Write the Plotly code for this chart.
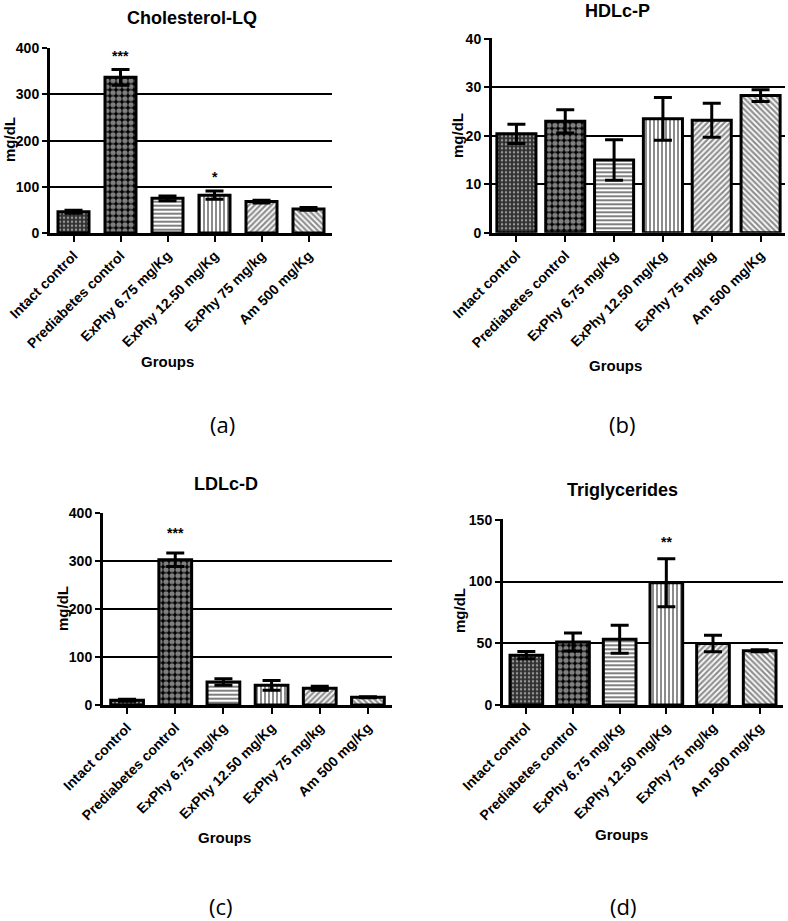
import plotly.graph_objects as go

groups = ["Intact control", "Prediabetes control", "ExPhy 6.75 mg/Kg",
          "ExPhy 12.50 mg/Kg", "ExPhy 75 mg/kg", "Am 500 mg/Kg"]

chol_mean = [46, 337, 75, 82, 68, 52]
chol_sem = [3, 17, 5, 9, 3, 3]
chol_sig = ["", "***", "", "*", "", ""]

hdl_mean = [20.4, 23.0, 15.0, 23.5, 23.2, 28.3]
hdl_sem = [2.0, 2.4, 4.2, 4.4, 3.5, 1.2]
hdl_sig = ["", "", "", "", "", ""]

ldl_mean = [10, 303, 48, 41, 35, 16]
ldl_sem = [2, 14, 7, 10, 4, 1]
ldl_sig = ["", "***", "", "", "", ""]

tg_mean = [40.4, 51.1, 53.3, 99.1, 49.8, 43.9]
tg_sem = [3.0, 7.3, 11.3, 19.4, 6.7, 0.8]
tg_sig = ["", "", "", "**", "", ""]

titles = ["Cholesterol-LQ", "HDLc-P", "LDLc-D", "Triglycerides"]
panel_labels = ["(a)", "(b)", "(c)", "(d)"]

W, H = 788, 921

def fx(px):
    return px / W

def fy(py):
    return 1 - py / H

# panel geometry in pixels: x0, x1, ytop, ybottom
panels = [
    dict(x0=50, x1=332, yt=47.7, yb=233, ymax=400, dtick=100, bw=0.66,
         mean=chol_mean, sem=chol_sem, sig=chol_sig, sigshift=14,
         title_xy=(192, 18), ylab_xy=(9, 140), grp_xy=(167, 362), lab_xy=(222, 424)),
    dict(x0=492, x1=785, yt=38.3, yb=232.7, ymax=40, dtick=10, bw=0.8,
         mean=hdl_mean, sem=hdl_sem, sig=hdl_sig, sigshift=14,
         title_xy=(617, 11), ylab_xy=(457, 136), grp_xy=(615, 366), lab_xy=(622, 424)),
    dict(x0=103, x1=392, yt=512.7, yb=705, ymax=400, dtick=100, bw=0.68,
         mean=ldl_mean, sem=ldl_sem, sig=ldl_sig, sigshift=20,
         title_xy=(226, 484), ylab_xy=(62, 609), grp_xy=(224, 837), lab_xy=(221, 906)),
    dict(x0=503, x1=783, yt=519.3, yb=705, ymax=150, dtick=50, bw=0.7,
         mean=tg_mean, sem=tg_sem, sig=tg_sig, sigshift=17,
         title_xy=(622, 490), ylab_xy=(459, 611), grp_xy=(621, 834), lab_xy=(623, 906)),
]

pat_shape = [".", ".", "-", "|", "/", "\\"]
pat_fg = ["white", "white", "black", "black", "#222222", "#222222"]
pat_bg = ["#303030", "black", "white", "white", "white", "white"]
pat_size = [4, 6, 4, 4, 4, 4]
pat_sol = [0.3, 0.6, 0.5, 0.45, 0.55, 0.55]

fig = go.Figure()
annotations = []
bold = dict(family="Liberation Sans", color="black", weight="bold")

for i, p in enumerate(panels):
    n = "" if i == 0 else str(i + 1)
    xa, ya = "x" + n, "y" + n
    fig.add_trace(go.Bar(
        x=groups, y=p["mean"], xaxis=xa, yaxis=ya, width=p["bw"],
        marker=dict(color="white",
                    line=dict(color="black", width=3),
                    pattern=dict(shape=pat_shape, fgcolor=pat_fg, bgcolor=pat_bg,
                                 size=pat_size, solidity=pat_sol)),
        error_y=dict(type="data", array=p["sem"], visible=True,
                     color="black", thickness=3, width=9),
        showlegend=False, hoverinfo="skip"))
    fig.update_layout(**{
        "xaxis" + n: dict(domain=[fx(p["x0"]), fx(p["x1"])], anchor=ya,
                          range=[-0.5, 5.5], showline=True, linewidth=3,
                          linecolor="black", ticks="outside", ticklen=6,
                          tickwidth=2, tickcolor="black", tickangle=-45,
                          tickfont=dict(size=14, **bold), showgrid=False,
                          zeroline=False, fixedrange=True, automargin=False),
        "yaxis" + n: dict(domain=[fy(p["yb"]), fy(p["yt"])], anchor=xa,
                          range=[0, p["ymax"] * 1.003], dtick=p["dtick"],
                          tick0=0, showline=True, linewidth=3,
                          linecolor="black", ticks="outside", ticklen=5,
                          tickwidth=2, tickcolor="black",
                          tickfont=dict(size=14, **bold), showgrid=True,
                          gridcolor="black", gridwidth=1.5, zeroline=False,
                          fixedrange=True, automargin=False),
    })
    for g, m, s, t in zip(groups, p["mean"], p["sem"], p["sig"]):
        if t:
            annotations.append(dict(x=g, y=m + s, xref=xa, yref=ya, text="<b>" + t + "</b>",
                                    showarrow=False, yshift=p["sigshift"], yanchor="middle",
                                    font=dict(family="Liberation Sans", size=14, color="black")))
    tx, ty = p["title_xy"]
    annotations.append(dict(x=fx(tx), y=fy(ty), xref="paper", yref="paper",
                            text="<b>" + titles[i] + "</b>", showarrow=False,
                            xanchor="center", yanchor="middle",
                            font=dict(family="Liberation Sans", size=18, color="black")))
    lx, ly = p["ylab_xy"]
    annotations.append(dict(x=fx(lx), y=fy(ly), xref="paper", yref="paper",
                            text="<b>mg/dL</b>", showarrow=False, textangle=-90,
                            xanchor="center", yanchor="middle",
                            font=dict(family="Liberation Sans", size=15, color="black")))
    gx, gy = p["grp_xy"]
    annotations.append(dict(x=fx(gx), y=fy(gy), xref="paper", yref="paper",
                            text="<b>Groups</b>", showarrow=False,
                            xanchor="center", yanchor="middle",
                            font=dict(family="Liberation Sans", size=15, color="black")))
    bx, by = p["lab_xy"]
    annotations.append(dict(x=fx(bx), y=fy(by), xref="paper", yref="paper",
                            text=panel_labels[i], showarrow=False,
                            xanchor="center", yanchor="middle",
                            font=dict(family="Open Sans", size=22, color="black")))

fig.update_layout(width=W, height=H, margin=dict(l=0, r=0, t=0, b=0),
                  paper_bgcolor="white", plot_bgcolor="white",
                  annotations=annotations, bargap=0.3)

fig.write_html("out.html")
